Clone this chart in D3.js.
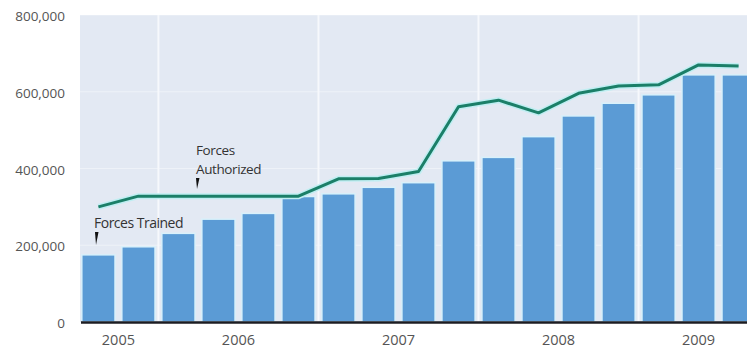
<!DOCTYPE html>
<html>
<head>
<meta charset="utf-8">
<script src="https://cdn.jsdelivr.net/npm/d3@7"></script>
<style>
html,body{margin:0;padding:0;background:#fff;}
svg{display:block;}
</style>
</head>
<body>
<svg id="chart" width="747" height="349"></svg>
<script>
const quarters = ["2005Q3","2005Q4","2006Q1","2006Q2","2006Q3","2006Q4","2007Q1","2007Q2","2007Q3","2007Q4","2008Q1","2008Q2","2008Q3","2008Q4","2009Q1","2009Q2","2009Q3"];
const forcesTrained = [175000,196000,231000,268000,283000,327000,334000,351000,363000,420000,429000,483000,537000,570000,592000,644000,644000];
const forcesAuthorized = [300000,328000,328000,328000,328000,328000,373000,374000,392000,561000,578000,545000,596000,615000,618000,670000,667000];
const yTicks = [0,200000,400000,600000,800000];
const yearLabels = ["2005","2006","2007","2008","2009"];
const yearGroups = [[0,1],[2,5],[6,9],[10,13],[14,16]];

(function(){
const svg = d3.select("#chart");
const mLeft = 80, mRight = 756, mTop = 15, mBottom = 322;

const x = d3.scaleBand().domain(quarters).range([mLeft+1, mRight]).paddingInner(0.17).paddingOuter(0.02);
const y = d3.scaleLinear().domain([0,800000]).range([mBottom, mTop]);

svg.append("defs").append("clipPath").attr("id","clip")
  .append("rect").attr("x",mLeft).attr("y",mTop).attr("width",747-mLeft).attr("height",mBottom-mTop+2);

const g = svg.append("g").attr("clip-path","url(#clip)");
g.append("rect").attr("x",mLeft).attr("y",mTop).attr("width",747-mLeft).attr("height",mBottom-mTop)
  .attr("fill","#e3e9f3");

g.selectAll(".hg").data(yTicks.slice(1)).enter().append("line")
  .attr("x1",mLeft).attr("x2",747).attr("y1",d=>y(d)).attr("y2",d=>y(d))
  .attr("stroke","#eef2f8").attr("stroke-width",1);

const step = x.step();
const gap = (step - x.bandwidth())/2;
const bounds = yearGroups.slice(1).map(gr => x(quarters[gr[0]]) - gap);
g.selectAll(".vg").data(bounds).enter().append("line")
  .attr("x1",d=>d).attr("x2",d=>d).attr("y1",mTop).attr("y2",mBottom)
  .attr("stroke","#f6f8fc").attr("stroke-width",2);

g.selectAll(".bar").data(forcesTrained).enter().append("rect")
  .attr("x",(d,i)=>x(quarters[i])).attr("y",d=>y(d))
  .attr("width",x.bandwidth()).attr("height",d=>mBottom-y(d))
  .attr("fill","#5b9bd5").attr("stroke","#d9f1fb").attr("stroke-width",1.5);

const line = d3.line().x((d,i)=>x(quarters[i])+x.bandwidth()/2).y(d=>y(d));
g.append("path").datum(forcesAuthorized).attr("d",line)
  .attr("fill","none").attr("stroke","#bfeef2").attr("stroke-width",6).attr("stroke-linejoin","round");
g.append("path").datum(forcesAuthorized).attr("d",line)
  .attr("fill","none").attr("stroke","#1b7f68").attr("stroke-width",3).attr("stroke-linejoin","round");

svg.append("line").attr("x1",mLeft+1).attr("x2",747).attr("y1",mBottom+0.5).attr("y2",mBottom+0.5)
  .attr("stroke","#1c1c22").attr("stroke-width",2.5);

const fnt = "'Open Sans', 'Noto Sans', sans-serif";
svg.selectAll(".yl").data(yTicks).enter().append("text")
  .attr("x",65).attr("y",d=>y(d)+6).attr("text-anchor","end")
  .attr("font-family",fnt).attr("font-size",13.5).attr("fill","#555")
  .text(d=>d3.format(",")(d));

svg.selectAll(".xl").data(yearGroups).enter().append("text")
  .attr("x",(gr,i)=>{
    const a = x(quarters[gr[0]]) - gap, b = x(quarters[gr[1]]) + x.bandwidth() + gap;
    return (a+b)/2;
  })
  .attr("y",345).attr("text-anchor","middle")
  .attr("font-family",fnt).attr("font-size",14.5).attr("fill","#555")
  .text((gr,i)=>yearLabels[i]);

function pointer(px, py1, py2){
  svg.append("path")
    .attr("d",`M${px-1},${py1} L${px+2.5},${py1} L${px},${py2} Z`)
    .attr("fill","#111");
}
svg.append("text").attr("x",94).attr("y",228)
  .attr("font-family",fnt).attr("font-size",14).attr("fill","#333").attr("letter-spacing",-0.5)
  .text("Forces Trained");
pointer(96, 232, 245);

svg.append("text").attr("x",196).attr("y",155)
  .attr("font-family",fnt).attr("font-size",13.5).attr("fill","#333").attr("letter-spacing",-0.4)
  .text("Forces");
svg.append("text").attr("x",196).attr("y",174)
  .attr("font-family",fnt).attr("font-size",13.5).attr("fill","#333").attr("letter-spacing",-0.4)
  .text("Authorized");
pointer(197, 178, 189);
})();
</script>
</body>
</html>
